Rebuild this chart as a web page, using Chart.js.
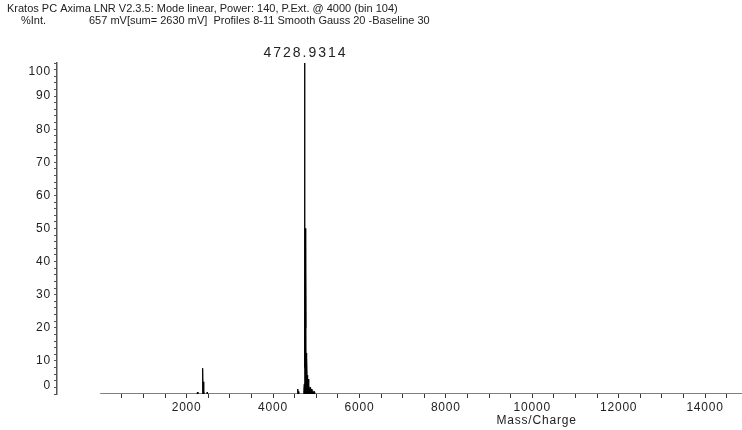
<!DOCTYPE html>
<html>
<head>
<meta charset="utf-8">
<script src="https://cdn.jsdelivr.net/npm/chart.js@4/dist/chart.umd.min.js"></script>
<style>
  html, body { margin: 0; padding: 0; background: #fff; }
  #wrap { width: 742px; height: 430px; }
</style>
</head>
<body>
<div id="wrap"><canvas id="spec" width="742" height="430"></canvas></div>
<script>
// spectrum header lines
const headerLine1 = 'Kratos PC Axima LNR V2.3.5: Mode linear, Power: 140, P.Ext. @ 4000 (bin 104)';
const headerLabel = '%Int.';
const headerLine2 = '657 mV[sum= 2630 mV]  Profiles 8-11 Smooth Gauss 20 -Baseline 30';
const peakLabel = '4728.9314';
const peakMass = 4728.9314;
const xTitle = 'Mass/Charge';

// profile (m/z, %Int)
const masses = [
  0,
  2240, 2252, 2262,
  2360, 2368, 2375, 2381, 2392, 2402, 2410,
  2470, 2477, 2484,
  4560, 4570, 4576, 4582, 4595, 4602,
  4700, 4712, 4720, 4729, 4734, 4740, 4748, 4754, 4760, 4766, 4772, 4778, 4784, 4792, 4798, 4804,
  4812, 4822, 4832, 4844, 4856, 4870, 4886, 4900, 4920, 4945, 4960, 4975,
  14855
];
const intensities = [
  0,
  0, 0.6, 0,
  0, 1, 7.8, 1, 3.7, 1.2, 0,
  0, 0.6, 0,
  0, 0.3, 1.5, 0.3, 0.8, 0,
  0, 1, 3, 100.5, 3, 8, 50, 20, 46, 6, 12.4, 8, 11, 4, 5.7, 3,
  4.5, 1.5, 2.5, 1, 2, 0.6, 1.5, 0.5, 1, 0.3, 0.8, 0,
  0
];

const xTicks = [];
for (let m = 500; m <= 14500; m += 500) xTicks.push(m);
const yTicks = [];
for (let v = 0; v <= 100; v += 2) yTicks.push(v);

const font = '"Liberation Sans", Arial, sans-serif';
const ink = '#222';

// old-style wide tick digits
const spacingPlugin = {
  id: 'spacingPlugin',
  beforeUpdate(chart) { chart.ctx.letterSpacing = '0.8px'; },
  beforeDraw(chart) { chart.ctx.letterSpacing = '0.8px'; }
};

const textPlugin = {
  id: 'textPlugin',
  afterDraw(chart) {
    const ctx = chart.ctx;
    const xs = chart.scales.x;
    ctx.save();
    ctx.fillStyle = ink;
    ctx.textBaseline = 'middle';
    ctx.textAlign = 'left';
    ctx.letterSpacing = '0px';
    ctx.font = '11px ' + font;
    ctx.fillText(headerLine1, 7, 9);
    ctx.fillText(headerLabel, 21, 21);
    ctx.fillText(headerLine2, 89, 21);
    // peak annotation
    ctx.textAlign = 'center';
    ctx.letterSpacing = '2px';
    ctx.font = '14px ' + font;
    ctx.fillText(peakLabel, xs.getPixelForValue(peakMass) + 1, 53);
    // axis title
    ctx.letterSpacing = '0.8px';
    ctx.font = '12px ' + font;
    ctx.fillText(xTitle, xs.getPixelForValue(10100), 421);
    ctx.restore();
  }
};

new Chart(document.getElementById('spec').getContext('2d'), {
  type: 'line',
  data: {
    datasets: [{
      data: masses.map((m, i) => ({ x: m, y: intensities[i] })),
      borderColor: '#000',
      backgroundColor: '#000',
      borderWidth: 1,
      pointRadius: 0,
      fill: 'origin',
      tension: 0
    }]
  },
  options: {
    responsive: false,
    animation: false,
    layout: { padding: { top: 63, right: 0, left: 0, bottom: 0 } },
    plugins: { legend: { display: false }, tooltip: { enabled: false } },
    scales: {
      x: {
        type: 'linear', min: -1000, max: 14855,
        afterFit: s => { s.height = 36; },
        afterBuildTicks: s => { s.ticks = xTicks.map(v => ({ value: v })); },
        border: { display: false },
        grid: { drawOnChartArea: false, tickLength: 4, color: '#333' },
        ticks: {
          autoSkip: false, maxRotation: 0, padding: 2, color: ink,
          font: { family: font, size: 12 },
          callback: v => (v % 2000 === 0 ? String(v) : '')
        }
      },
      y: {
        type: 'linear', min: 0, max: 100, position: 'left',
        afterFit: s => { s.width = 57; },
        afterBuildTicks: s => { s.ticks = yTicks.map(v => ({ value: v })); },
        border: { display: true, color: '#555', width: 1.5 },
        grid: { drawOnChartArea: false, tickLength: 3, color: '#555' },
        ticks: {
          autoSkip: false, padding: 3, color: ink,
          font: { family: font, size: 12, lineHeight: 1.4 },
          callback: v => {
            if (v === 100) return ['', '100'];
            if (v === 0) return ['0', ''];
            return v % 10 === 0 ? String(v) : '';
          }
        }
      }
    }
  },
  plugins: [spacingPlugin, textPlugin]
});
</script>
</body>
</html>
